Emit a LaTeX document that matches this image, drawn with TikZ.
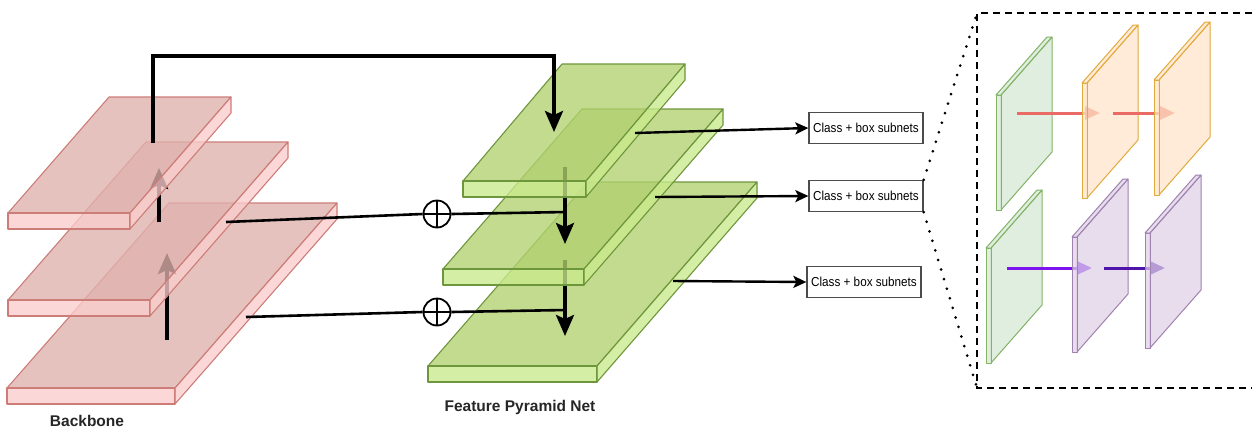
\documentclass[tikz,border=0pt]{standalone}
\usepackage{fontspec}
\setmainfont{Liberation Sans}
\usetikzlibrary{arrows.meta}
\definecolor{pinkT}{RGB}{224,178,174}
\definecolor{pinkF}{RGB}{250,206,204}
\definecolor{pinkS}{RGB}{205,125,120}
\definecolor{grnT}{RGB}{178,210,112}
\definecolor{grnF}{RGB}{202,234,140}
\definecolor{grnS}{RGB}{110,150,60}
\definecolor{pgF}{RGB}{213,232,212}
\definecolor{pgS}{RGB}{130,179,102}
\definecolor{poF}{RGB}{255,228,200}
\definecolor{poS}{RGB}{225,170,60}
\definecolor{ppF}{RGB}{222,208,230}
\definecolor{ppS}{RGB}{160,130,176}
\definecolor{redA}{RGB}{234,107,102}
\definecolor{purA}{RGB}{125,20,240}
\definecolor{purB}{RGB}{80,20,170}
\newcommand{\fpnslab}[7]{%
  \path[#6] (#1,#2) -- ++(#3,0) -- ++(#4,-#5) -- ++(-#3,0) -- cycle;
  \path[#7] (#1,#2) rectangle ++(#3,16);
  \path[#7] ({#1+#3},#2) -- ++(#4,-#5) -- ++(0,16) -- ++(-#4,#5) -- cycle;
}
\newcommand{\panelplate}[4]{%
  \path[draw=#4, fill=#3, fill opacity=0.72, line width=1pt, line join=round]
    ({#1+5},#2) -- ++(51,-58) -- ++(0,115) -- ++(-51,58) -- cycle;
  \path[draw=#4, fill=#3, fill opacity=0.72, line width=1pt, line join=round]
    (#1,#2) rectangle ++(5,115);
  \path[draw=#4, fill=#3, fill opacity=0.72, line width=1pt, line join=round]
    (#1,#2) -- ++(51,-58) -- ++(5,0) -- ++(-51,58) -- cycle;
}
\newcommand{\subnettext}{\scalebox{0.9}[1]{Class + box subnets}}
\tikzset{
  pinktop/.style={draw=pinkS, fill=pinkT, fill opacity=0.78, line width=1.1pt, line join=round},
  pinkfront/.style={draw=pinkS, fill=pinkF, fill opacity=0.78, line width=1.1pt, line join=round},
  grntop/.style={draw=grnS, fill=grnT, fill opacity=0.78, line width=1.1pt, line join=round},
  grnfront/.style={draw=grnS, fill=grnF, fill opacity=0.78, line width=1.1pt, line join=round},
  bigarrow/.style={line width=3.6pt, -{Stealth[length=21pt,width=18pt,inset=4pt]}},
  plainline/.style={line width=2.6pt},
  toBox/.style={line width=2.4pt, -{Stealth[length=13pt,width=12pt,inset=3pt]}},
  oplusnode/.style={circle, draw, line width=1.8pt, minimum size=27pt, inner sep=0pt,
    path picture={\draw[line width=1.8pt] (path picture bounding box.north) -- (path picture bounding box.south);
                  \draw[line width=1.8pt] (path picture bounding box.west) -- (path picture bounding box.east);}},
  subnet/.style={draw=black!70, line width=1.3pt, minimum width=114pt, minimum height=31pt,
    inner sep=0pt, font=\fontsize{13}{15}\selectfont},
  lbl/.style={font=\bfseries\fontsize{15.5}{18}\selectfont, text=black!85},
  panelarrow/.style={line width=3pt, -{Triangle[length=15pt,width=13pt]}},
  dotline/.style={line width=3pt, line cap=round, dash pattern=on 0pt off 10pt},
  panelframe/.style={line width=2.3pt, dash pattern=on 7pt off 5pt},
}
\begin{document}
\begin{tikzpicture}[x=1pt,y=-1pt]
\useasboundingbox (0,0) rectangle (1253,432);
\fill[white] (0,0) rectangle (1253,432);

% ---------- Backbone ----------
\fpnslab{7}{388}{168}{162}{185}{pinktop}{pinkfront}
\coordinate (pb1) at (167,340);
\coordinate (pb2) at (167,253);
\draw[bigarrow] (pb1) -- (pb2);
\fpnslab{8}{300}{142}{138}{158}{pinktop}{pinkfront}
\coordinate (pa1) at (159,222);
\coordinate (pa2) at (159,168);
\draw[bigarrow] (pa1) -- (pa2);
\fpnslab{8}{213}{122}{101}{116}{pinktop}{pinkfront}

% ---------- FPN ----------
\fpnslab{428}{366}{169}{160}{184}{grntop}{grnfront}
\coordinate (fa1) at (565,260);
\coordinate (fa2) at (565,336);
\draw[bigarrow] (fa1) -- (fa2);
\fpnslab{443}{269}{141}{139}{160}{grntop}{grnfront}
\coordinate (fb1) at (565,167);
\coordinate (fb2) at (565,244);
\draw[bigarrow] (fb1) -- (fb2);
\fpnslab{463}{181}{123}{99}{117}{grntop}{grnfront}

% ---------- lateral connections ----------
\coordinate (p1) at (226,222);
\coordinate (p2) at (246,317);
\node[oplusnode] (op1) at (437,214) {};
\node[oplusnode] (op2) at (437,312) {};
\coordinate (j1) at (566,212);
\coordinate (j2) at (566,310);
\draw[plainline] (p1) -- (op1.west);
\draw[plainline] (op1.east) -- (j1);
\draw[plainline] (p2) -- (op2.west);
\draw[plainline] (op2.east) -- (j2);

% top-down connection
\coordinate (bt) at (153,143);
\coordinate (tt) at (554,132);
\coordinate (topy) at (0,56);
\draw[bigarrow] (bt) -- (bt |- topy) -| (tt);

% ---------- heads ----------
\node[subnet] (c1) at (866,128) {\subnettext};
\node[subnet] (c2) at (866,196) {\subnettext};
\node[subnet] (c3) at (864,282) {\subnettext};
\coordinate (g1) at (635,133);
\coordinate (g2) at (655,197);
\coordinate (g3) at (673,281);
\draw[toBox] (g1) -- (c1.west);
\draw[toBox] (g2) -- (c2.west);
\draw[toBox] (g3) -- (c3.west);

% labels
\node[lbl] (bbl) at (87,421) {Backbone};
\node[lbl] (fpl) at (520,407) {Feature Pyramid Net};

% ---------- zoom panel ----------
\coordinate (ptl) at (977,13);
\coordinate (pbl) at (977,388);
\draw[panelframe] (1252,13) -- (ptl) -- (pbl) -- (1252,388);
\draw[dotline] (c2.north east) -- (ptl);
\draw[dotline] (c2.south east) -- (pbl);

% top row
\panelplate{996}{95}{pgF}{pgS}
\coordinate (r1a) at (1017,113);
\coordinate (r1b) at (1100,113);
\draw[panelarrow, draw=redA, fill=redA] (r1a) -- (r1b);
\panelplate{1082}{83}{poF}{poS}
\coordinate (r2a) at (1113,113);
\coordinate (r2b) at (1175,113);
\draw[panelarrow, draw=redA, fill=redA] (r2a) -- (r2b);
\panelplate{1154}{80}{poF}{poS}

% bottom row
\panelplate{986}{248}{pgF}{pgS}
\coordinate (v1a) at (1007,268);
\coordinate (v1b) at (1092,268);
\draw[panelarrow, draw=purA, fill=purA] (v1a) -- (v1b);
\panelplate{1072}{237}{ppF}{ppS}
\coordinate (v2a) at (1104,268);
\coordinate (v2b) at (1165,268);
\draw[panelarrow, draw=purB, fill=purB] (v2a) -- (v2b);
\panelplate{1145}{233}{ppF}{ppS}
\end{tikzpicture}
\end{document}
